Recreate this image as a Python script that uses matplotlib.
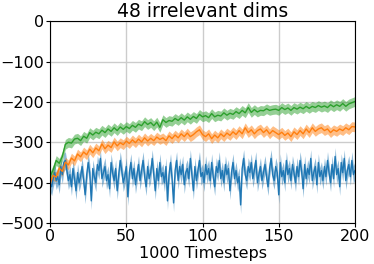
import matplotlib
matplotlib.use("Agg")
import matplotlib.pyplot as plt
import numpy as np

green_mean = [-385, -368, -345, -352, -335, -305, -300, -302, -292, -290,
              -296, -285, -290, -276, -282, -275, -279, -270, -276, -267,
              -273, -264, -271, -262, -268, -261, -266, -258, -263, -255,
              -259, -249, -256, -251, -259, -250, -263, -244, -251, -246,
              -248, -241, -246, -239, -245, -237, -243, -236, -241, -231,
              -237, -234, -239, -229, -237, -233, -235, -227, -233, -228,
              -231, -224, -229, -221, -227, -214, -226, -219, -225, -221,
              -222, -217, -221, -219, -218, -221, -214, -219, -215, -221,
              -214, -218, -213, -217, -211, -216, -211, -214, -209, -213,
              -210, -214, -207, -212, -207, -211, -204, -211, -205, -202,
              -199]

orange_mean = [-400, -382, -386, -364, -372, -349, -356, -339, -346, -329,
               -336, -324, -331, -317, -326, -314, -321, -304, -316, -307,
               -313, -299, -309, -301, -306, -297, -303, -294, -301, -292,
               -299, -289, -297, -290, -296, -287, -293, -289, -296, -284,
               -291, -282, -289, -279, -286, -277, -286, -281, -274, -269,
               -281, -286, -279, -291, -282, -289, -279, -286, -277, -283,
               -274, -281, -271, -279, -264, -276, -269, -279, -271, -267,
               -276, -269, -279, -271, -276, -281, -275, -283, -277, -286,
               -274, -281, -271, -279, -267, -276, -264, -273, -267, -264,
               -271, -267, -276, -269, -273, -267, -271, -264, -269, -261,
               -262]

blue_mean = [-400, -410, -390, -375, -395, -385, -405, -360, -380, -350,
             -345, -370, -395, -380, -410, -365, -390, -420, -375, -400,
             -385, -360, -395, -430, -380, -350, -375, -445, -365, -385,
             -400, -355, -370, -340, -390, -375, -360, -395, -380, -415,
             -350, -375, -395, -365, -420, -380, -345, -370, -400, -385,
             -360, -435, -375, -350, -390, -365, -405, -380, -355, -395,
             -370, -345, -385, -410, -360, -390, -375, -340, -380, -420,
             -365, -395, -350, -385, -375, -400, -360, -445, -380, -350,
             -390, -450, -370, -345, -395, -360, -380, -355, -405, -375,
             -365, -390, -340, -380, -420, -360, -395, -370, -345, -385,
             -375, -400, -355, -380, -365, -395, -350, -385, -410, -360,
             -375, -345, -390, -370, -400, -355, -380, -365, -420, -375,
             -350, -390, -370, -400, -385, -455, -365, -340, -380, -395,
             -360, -375, -350, -390, -370, -345, -400, -380, -360, -395,
             -375, -355, -385, -410, -365, -340, -380, -395, -360, -375,
             -430, -350, -385, -370, -400, -345, -380, -365, -395, -355,
             -375, -400, -360, -385, -345, -370, -415, -355, -390, -365,
             -380, -340, -395, -375, -360, -405, -350, -385, -370, -395,
             -360, -385, -345, -375, -400, -355, -390, -335, -380, -365,
             -410, -350, -375, -340, -395, -370, -355, -385, -345, -380,
             -370]

# standard error half-widths
blue_err = 22
orange_err = 12
green_err = 12

fig = plt.figure(figsize=(3.74, 2.64), dpi=100)
ax = fig.add_axes([0.134, 0.155, 0.815, 0.765])

series = [(blue_mean, blue_err, 'tab:blue'),
          (orange_mean, orange_err, 'tab:orange'),
          (green_mean, green_err, 'tab:green')]
for mean, err, color in series:
    m = np.array(mean, dtype=float)
    x = np.linspace(0, 200, len(m))
    ax.fill_between(x, m - err, m + err, color=color, alpha=0.5, linewidth=0)
    ax.plot(x, m, color=color, linewidth=1)

ax.set_xlim(0, 200)
ax.set_ylim(-500, 0)
ax.set_xticks([0, 50, 100, 150, 200])
ax.set_yticks([-500, -400, -300, -200, -100, 0])
ax.tick_params(labelsize=11.5, length=3, pad=1.5)
ax.grid(True, color='#cccccc', linewidth=1)
ax.set_axisbelow(True)
ax.set_title('48 irrelevant dims', fontsize=13.5, pad=2)
ax.set_xlabel('1000 Timesteps', fontsize=11.5, labelpad=1)

fig.savefig('out.png', dpi=100)
